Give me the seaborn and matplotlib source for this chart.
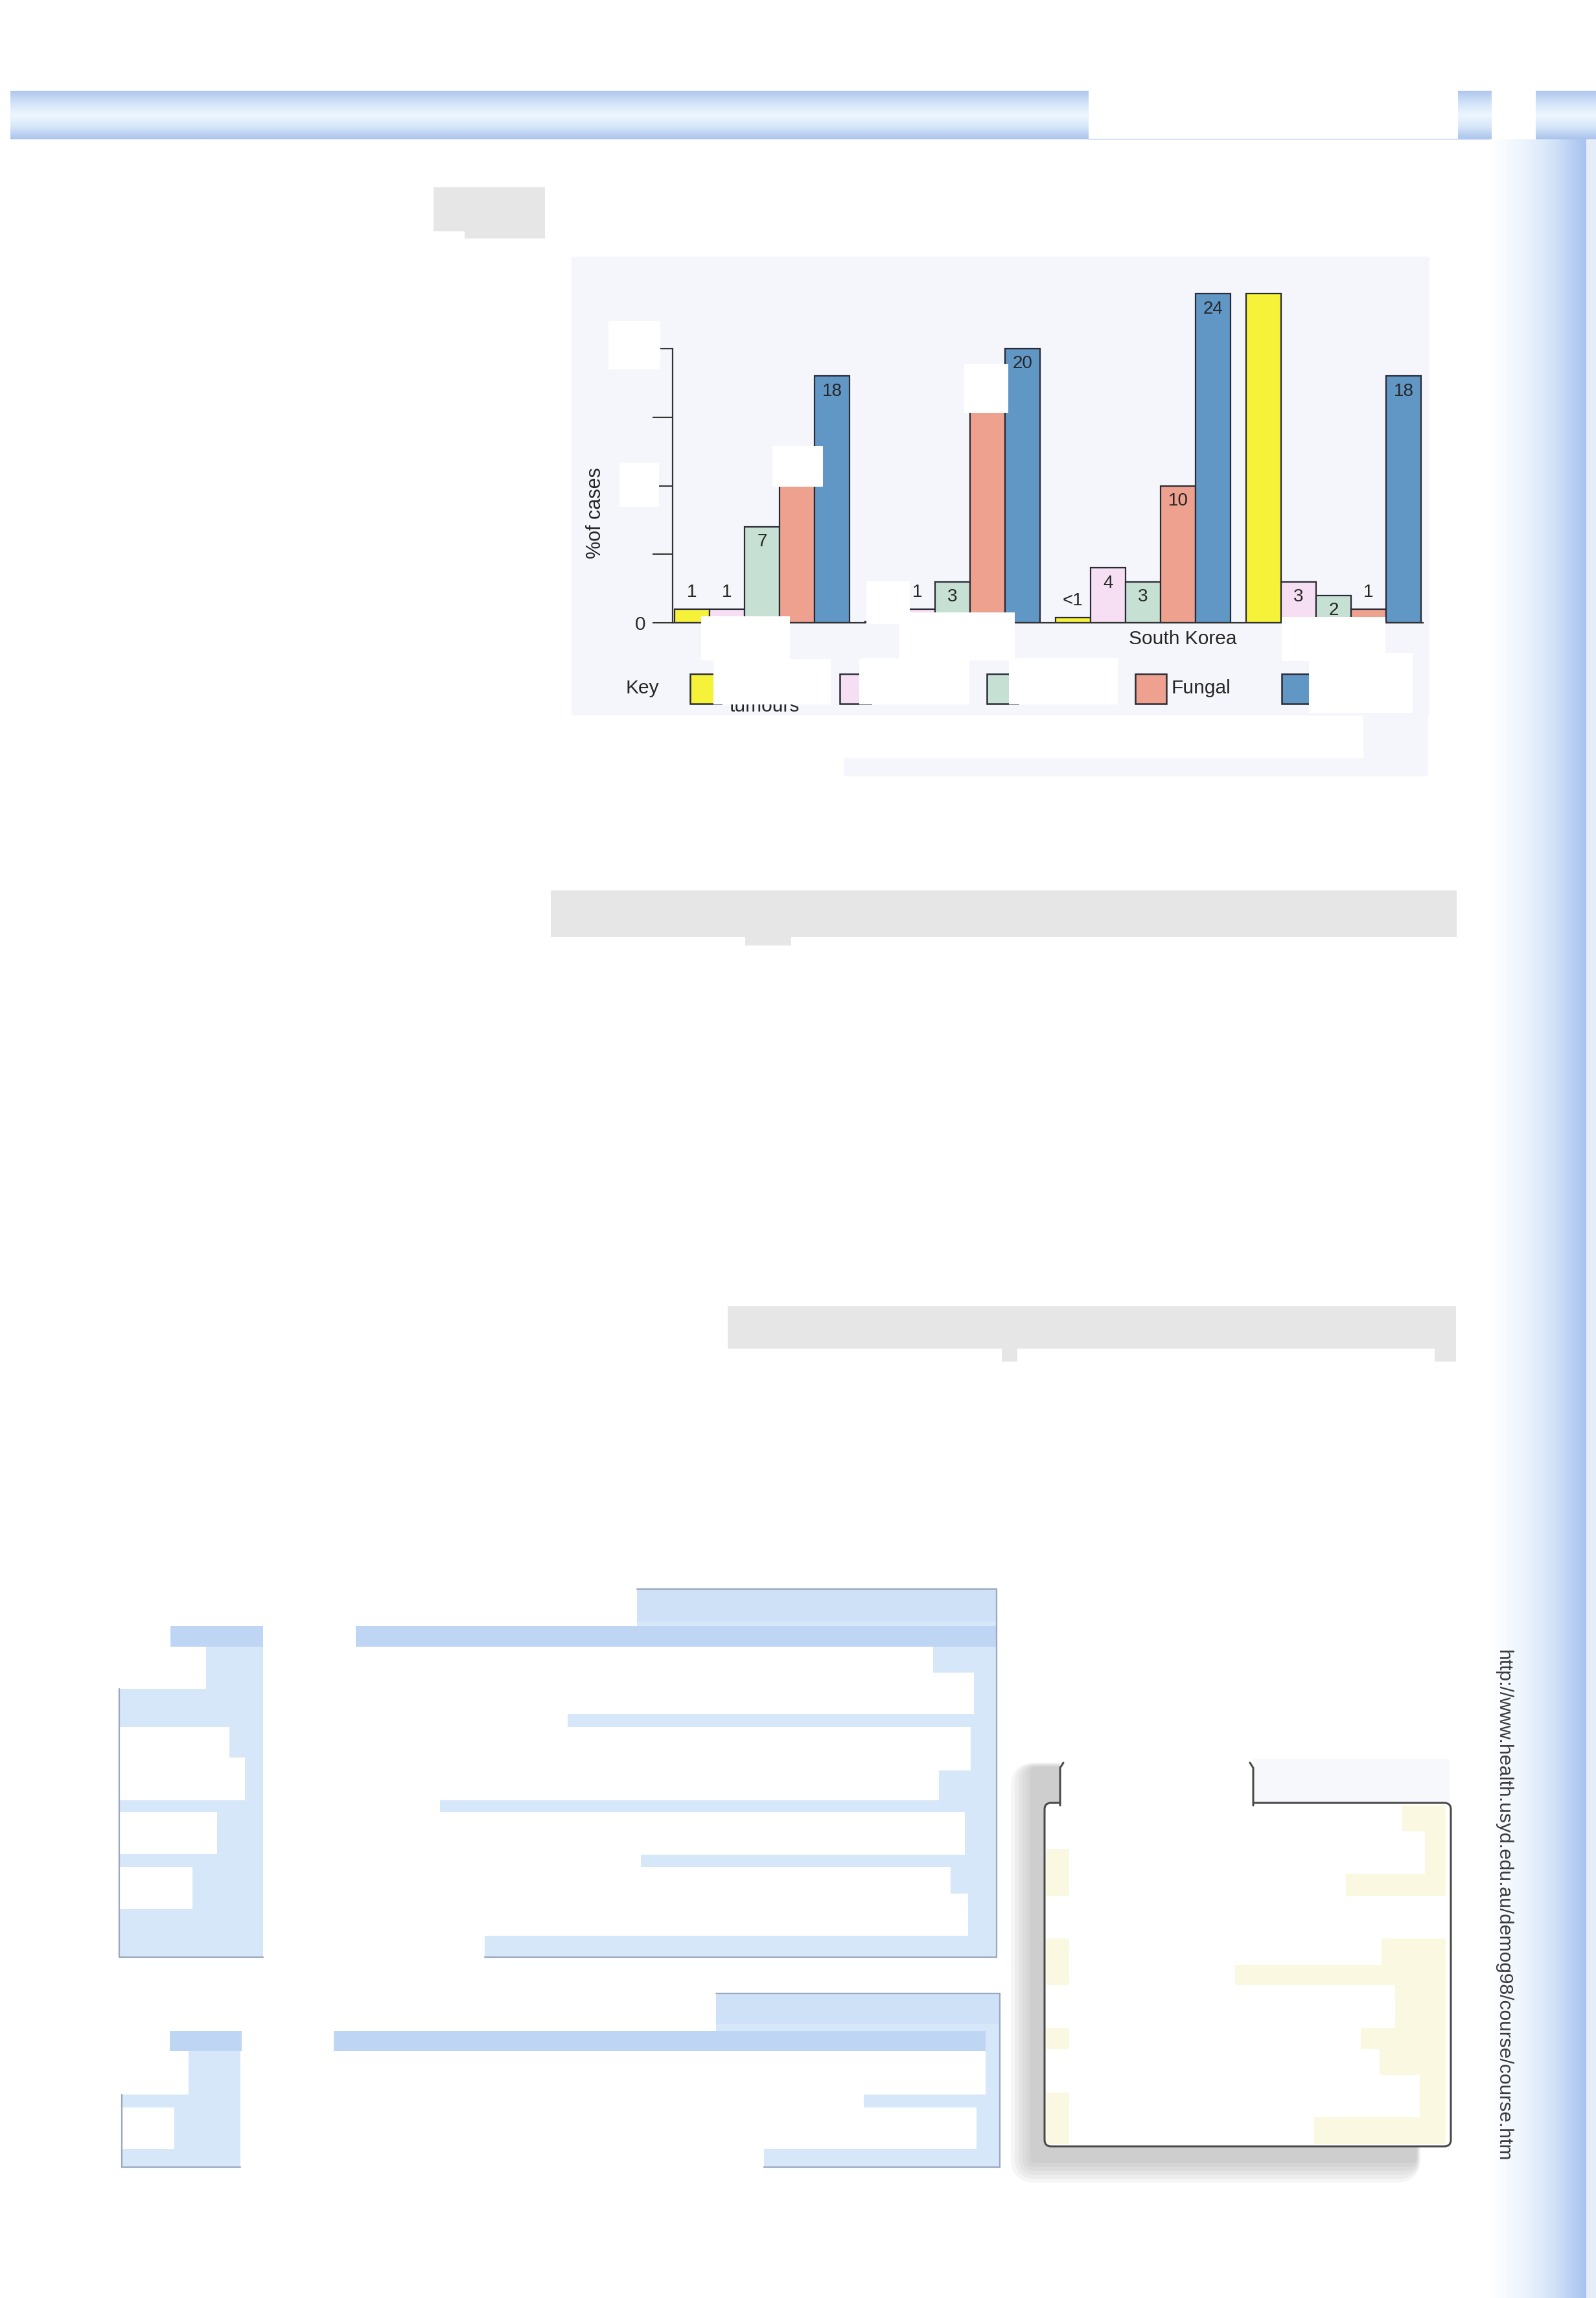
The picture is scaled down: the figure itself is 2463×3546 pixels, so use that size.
import numpy as np
import pandas as pd
import matplotlib
matplotlib.use("Agg")
import matplotlib.pyplot as plt
import seaborn as sns
from matplotlib.patches import Rectangle, FancyBboxPatch
from matplotlib.colors import LinearSegmentedColormap

# ---------------- data ----------------
groups = ["Group 1", "Group 2", "South Korea", "Group 4"]
series = ["Tumours", "Series B", "Series C", "Fungal", "Series E"]
tumours = [1, 0.1, 0.4, 24]
series_b = [1, 1, 4, 3]
series_c = [7, 3, 3, 2]
fungal = [12, 17, 10, 1]
series_e = [18, 20, 24, 18]
lab_tumours = ["1", "", "<1", ""]
lab_b = ["1", "1", "4", "3"]
lab_c = ["7", "3", "3", "2"]
lab_fungal = ["", "", "10", "1"]
lab_e = ["18", "20", "24", "18"]
y_ticks = [0, 5, 10, 15, 20]
y_tick_labels = ["0", "", "", "", ""]
colors = ["#F6F23A", "#F7DFF3", "#C6E1D3", "#EDA18E", "#6197C5"]

W, H = 2463, 3546
sns.set_style("white")
plt.rcParams["font.family"] = ["Liberation Sans", "DejaVu Sans"]
TXT = "#262626"
EDGE = "#2a2a34"
FS_TXT = 21.5
FS_VAL = 20

fig = plt.figure(figsize=(W / 100, H / 100), dpi=100)
fig.patch.set_facecolor("white")

# ---------------- background / page decoration ----------------
bg = fig.add_axes([0, 0, 1, 1])
bg.set_xlim(0, W)
bg.set_ylim(H, 0)
bg.axis("off")


def rect(a, x0, y0, x1, y1, color, z=1, **kw):
    a.add_patch(Rectangle((x0, y0), x1 - x0, y1 - y0, facecolor=color,
                          edgecolor=kw.pop("ec", "none"), zorder=z, **kw))


hdr_cmap = LinearSegmentedColormap.from_list(
    "hdr", ["#AFC7EE", "#D3E4F8", "#EEF7FE", "#D6E6F9", "#AAC3EC"])
grad_v = np.linspace(0, 1, 64).reshape(-1, 1)
for (x0, x1) in [(16, 1680), (2250, 2302), (2370, W)]:
    bg.imshow(grad_v, cmap=hdr_cmap, extent=(x0, x1, 215, 140), aspect="auto",
              origin="upper", zorder=1)
bg.plot([1680, 2300], [215, 215], color="#CCDAF2", lw=1.2, zorder=1)

strip_cmap = LinearSegmentedColormap.from_list(
    "strip", ["#FFFFFF", "#EEF5FD", "#D2E3F8", "#A8C2EE"])
grad_h = np.linspace(0, 1, 128).reshape(1, -1)
bg.imshow(grad_h, cmap=strip_cmap, extent=(2299, 2448, H, 215), aspect="auto",
          origin="upper", zorder=1)
rect(bg, 2448, 215, W, H, "#E6EDF8")

# grey boxes
GREY = "#E6E6E6"
rect(bg, 669, 289, 841, 357, GREY)
rect(bg, 717, 357, 841, 368, GREY)
rect(bg, 850, 1374, 2248, 1446, GREY)
rect(bg, 1150, 1446, 1221, 1459, GREY)
rect(bg, 1123, 2015, 2247, 2081, GREY)
rect(bg, 1546, 2081, 1570, 2101, GREY)
rect(bg, 2214, 2081, 2247, 2101, GREY)

# chart panel
PANEL = "#F5F6FB"
rect(bg, 882, 396, 2206, 1104, PANEL)
rect(bg, 2104, 1104, 2204, 1198, PANEL)
rect(bg, 1302, 1170, 2204, 1198, PANEL)

# ---- tables (bottom-left) ----
def tz(zx, zy):
    return 150 + zx / 1.12, 2420 + zy / 1.65


def trect(zx0, zy0, zx1, zy1, color, z=2):
    x0, y0 = tz(zx0, zy0)
    x1, y1 = tz(zx1, zy1)
    rect(bg, x0, y0, x1, y1, color, z=z)


BLUE_L = "#D5E7F8"
BLUE_D = "#BED6F3"
# table 1
trect(38, 52, 1555, 990, BLUE_L, z=2)
trect(933, 52, 1555, 135, "#CFE1F6", z=2)
trect(127, 147, 287, 200, BLUE_D, z=2)
trect(447, 147, 1555, 200, BLUE_D, z=2)
for r in [(38, 52, 933, 147), (38, 147, 127, 200), (287, 147, 447, 200),
          (38, 200, 188, 307), (287, 200, 1445, 265), (287, 265, 1515, 372),
          (287, 372, 813, 405), (287, 405, 1510, 515), (287, 515, 1455, 590),
          (287, 590, 592, 620), (287, 620, 1500, 730), (287, 730, 940, 760),
          (287, 760, 1475, 828), (287, 828, 1505, 935), (287, 935, 670, 998),
          (38, 405, 228, 482), (38, 482, 255, 590), (38, 620, 207, 728),
          (38, 760, 165, 868)]:
    trect(*r, "white", z=3)
for (a, b) in [((38, 307), (38, 990)), ((38, 990), (287, 990)),
               ((670, 990), (1555, 990)), ((1555, 52), (1555, 990)),
               ((933, 52), (1555, 52))]:
    (xa, ya), (xb, yb) = tz(*a), tz(*b)
    bg.plot([xa, xb], [ya, yb], color="#9AA8BD", lw=1.6, zorder=4)
# table 2
trect(42, 1083, 1560, 1525, BLUE_L, z=2)
trect(1070, 1083, 1560, 1160, "#CFE1F6", z=2)
trect(125, 1178, 250, 1230, BLUE_D, z=2)
trect(409, 1178, 1535, 1230, BLUE_D, z=2)
for r in [(42, 1070, 1070, 1178), (42, 1178, 125, 1230), (250, 1178, 409, 1230),
          (42, 1230, 158, 1340), (248, 1230, 1535, 1340), (248, 1340, 1325, 1372),
          (42, 1372, 133, 1478), (248, 1372, 1520, 1478), (248, 1478, 1152, 1532)]:
    trect(*r, "white", z=3)
for (a, b) in [((42, 1340), (42, 1525)), ((42, 1525), (248, 1525)),
               ((1152, 1525), (1560, 1525)), ((1560, 1083), (1560, 1525)),
               ((1070, 1083), (1560, 1083))]:
    (xa, ya), (xb, yb) = tz(*a), tz(*b)
    bg.plot([xa, xb], [ya, yb], color="#9AA8BD", lw=1.6, zorder=4)

# ---- notepad box (bottom-right) ----
def yz(zx, zy):
    return 1550 + zx / 1.717, 2450 + zy / 1.65


# soft shadow, mostly to the left and below
for k in range(6):
    g = k * 6
    x0 = 1590 - g
    x1 = 2186 + g * 0.2
    y0 = 2726 - g * 0.2
    y1 = 3338 + g
    bg.add_patch(FancyBboxPatch((x0, y0), x1 - x0, y1 - y0,
                                boxstyle="round,pad=0,rounding_size=%d" % (8 + g),
                                facecolor="#7E7E7E", edgecolor="none",
                                alpha=0.07, zorder=2))
rect(bg, 1934, 2714, 2237, 2782, "#F6F8FC", z=2.5)
bg.add_patch(FancyBboxPatch((1612, 2782), 627, 530,
                            boxstyle="round,pad=0,rounding_size=10",
                            facecolor="white", edgecolor="#4a4a4a", lw=2.2,
                            zorder=3))
rect(bg, 1636, 2720, 1934, 2790, "white", z=4)
bg.plot([1636, 1636, 1641], [2786, 2728, 2720], color="#4a4a4a", lw=2.2, zorder=5)
bg.plot([1934, 1934, 1929], [2786, 2728, 2720], color="#4a4a4a", lw=2.2, zorder=5)
CREAM = "#FBF8E2"
for r in [(1055, 555, 1170, 620), (1115, 620, 1170, 730), (905, 730, 1170, 785),
          (1000, 893, 1170, 960), (612, 960, 1170, 1012), (1035, 1012, 1170, 1120),
          (945, 1120, 1170, 1175), (995, 1175, 1170, 1240), (1100, 1240, 1170, 1348),
          (820, 1348, 1170, 1416), (112, 665, 172, 785), (112, 893, 172, 1012),
          (112, 1120, 172, 1175), (112, 1285, 172, 1416)]:
    (x0, y0), (x1, y1) = yz(r[0], r[1]), yz(r[2], r[3])
    rect(bg, x0, y0, x1, y1, CREAM, z=4)

bg.text(2320, 2546, "http://www.health.usyd.edu.au/demog98/course/course.htm",
        rotation=270, ha="center", va="top", fontsize=21.6, color="#3a3a3a",
        zorder=5)

# ---------------- the chart ----------------
ZERO_Y = 961.0
PX_PER_UNIT = 21.15
Y_MAX = 25
ax_left, ax_right = 1029, 2205
ax_top = ZERO_Y - Y_MAX * PX_PER_UNIT
ax = fig.add_axes([ax_left / W, 1 - ZERO_Y / H, (ax_right - ax_left) / W,
                   (ZERO_Y - ax_top) / H])
ax.patch.set_alpha(0)

rows = []
for s, vals in zip(series, [tumours, series_b, series_c, fungal, series_e]):
    for g, v in zip(groups, vals):
        rows.append({"group": g, "series": s, "value": v})
df = pd.DataFrame(rows)

sns.barplot(data=df, x="group", y="value", hue="series", order=groups,
            hue_order=series, palette=colors, saturation=1, width=0.92, gap=0,
            errorbar=None, edgecolor=EDGE, linewidth=1.6, legend=False, ax=ax)

ax.set_xlim(-0.5, 3.5)
ax.set_ylim(0, Y_MAX)
for sp in ["top", "right"]:
    ax.spines[sp].set_visible(False)
ax.spines["left"].set_position(("data", -0.468))
ax.spines["left"].set_bounds(0, 20)
ax.spines["left"].set_color("#333333")
ax.spines["left"].set_linewidth(1.6)
ax.spines["bottom"].set_bounds(-0.468, 3.47)
ax.spines["bottom"].set_color("#333333")
ax.spines["bottom"].set_linewidth(1.6)
ax.set_yticks(y_ticks)
ax.set_yticklabels(y_tick_labels)
ax.tick_params(axis="y", left=True, direction="out", length=22, width=1.5,
               color="#333333", labelsize=FS_TXT, labelcolor=TXT, pad=8)
ax.set_xticks([])
ax.set_xlabel("")
ax.set_ylabel("%of cases", fontsize=22, color=TXT)
ax.yaxis.set_label_coords((934 - ax_left) / (ax_right - ax_left),
                          (ZERO_Y - 792) / (ZERO_Y - ax_top))
ax.grid(False)

labels_all = [lab_tumours, lab_b, lab_c, lab_fungal, lab_e]
for cont, labs in zip(ax.containers, labels_all):
    for bar, lab in zip(cont, labs):
        if not lab:
            continue
        h = bar.get_height()
        xc = bar.get_x() + bar.get_width() / 2
        if h >= 2:
            ax.annotate(lab, (xc, h), xytext=(0, -7.5), textcoords="offset points",
                        ha="center", va="top", fontsize=FS_VAL, color=TXT)
        else:
            ax.annotate(lab, (xc, h), xytext=(0, 9), textcoords="offset points",
                        ha="center", va="bottom", fontsize=FS_VAL, color=TXT)

ax.annotate("South Korea", (2.21, 0), xytext=(0, -18), textcoords="offset points",
            ha="center", va="center", fontsize=FS_TXT, color=TXT)

# ---------------- overlay: key + masks ----------------
ov = fig.add_axes([0, 0, 1, 1])
ov.set_xlim(0, W)
ov.set_ylim(H, 0)
ov.axis("off")

ov.text(966, 1070, "Key", ha="left", va="baseline", fontsize=FS_TXT, color=TXT)
for x0, c in zip([1065, 1296, 1523, 1752, 1978], colors):
    rect(ov, x0, 1040, x0 + 48, 1086, c, z=3, ec=EDGE, lw=1.8)
ov.text(1807, 1070, "Fungal", ha="left", va="baseline", fontsize=FS_TXT, color=TXT)
ov.text(1180, 1098, "tumours", ha="center", va="baseline", fontsize=FS_TXT, color=TXT)

MASK = "white"
for (x0, y0, x1, y1) in [
        (939, 495, 1019, 570), (956, 714, 1017, 782),
        (1192, 688, 1270, 751), (1488, 562, 1556, 637),
        (1082, 951, 1219, 1019), (1337, 897, 1404, 963), (1387, 945, 1566, 1019),
        (1978, 952, 2138, 1020),
        (1101, 1017, 1282, 1087), (1326, 1016, 1496, 1087),
        (1557, 1016, 1725, 1087), (2020, 1008, 2180, 1100)]:
    rect(ov, x0, y0, x1, y1, MASK, z=10)

fig.savefig("out.png", dpi=100, facecolor="white")
